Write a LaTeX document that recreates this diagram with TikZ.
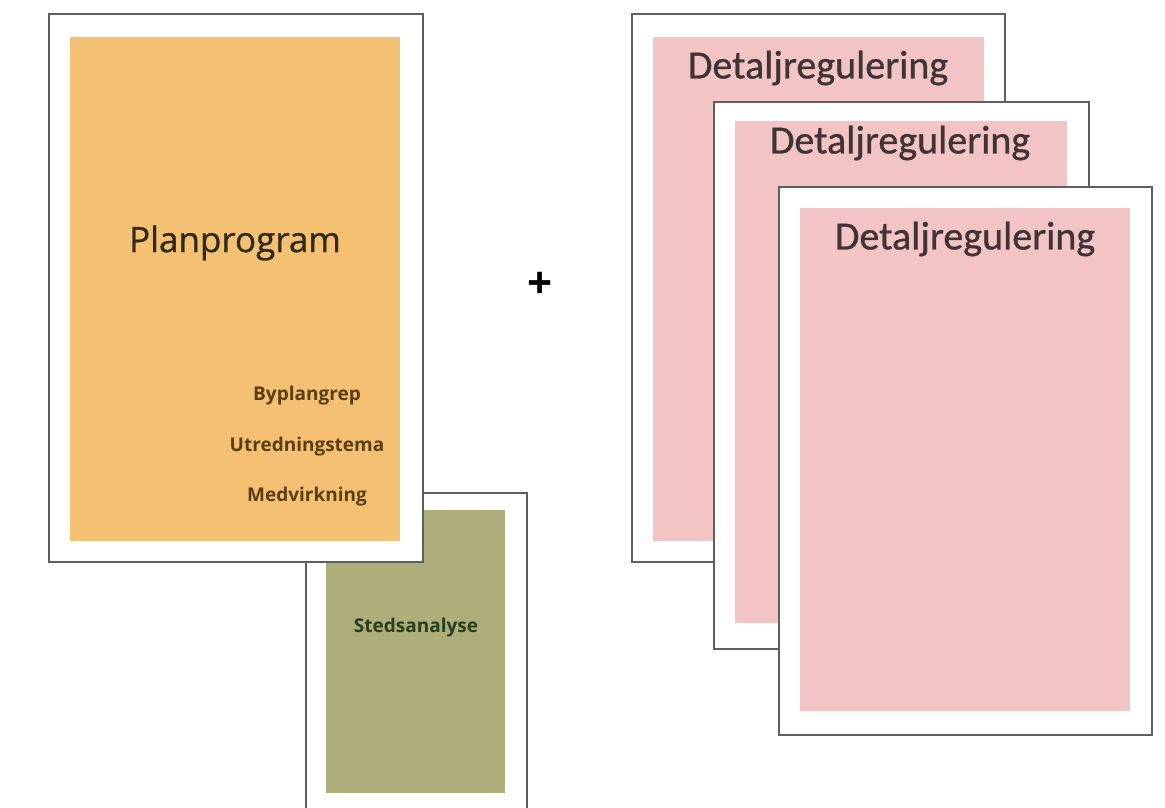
\documentclass[tikz,border=0pt]{standalone}
\usepackage{fontspec}
\setmainfont{Open Sans}
\newfontfamily\calfont[FakeBold=0.8]{Carlito}
\newfontfamily\titlefont[FakeBold=0.8]{Open Sans}
\definecolor{framegray}{HTML}{5F5F5F}
\definecolor{planorange}{HTML}{F4C173}
\definecolor{stedolive}{HTML}{ADAE7A}
\definecolor{detpink}{HTML}{F2C4C4}
\definecolor{plantext}{HTML}{2E2A1E}
\definecolor{subtext}{HTML}{5A3E14}
\definecolor{dettext}{HTML}{3E3436}
\tikzset{
  sheet/.style={draw=framegray, line width=2pt, fill=white, anchor=north west, inner sep=0pt},
  panel/.style={draw=none, anchor=north west, inner sep=0pt},
  dettitle/.style={font=\calfont\fontsize{40}{44}\selectfont, text=dettext, inner sep=0pt},
  subitem/.style={font=\fontsize{19}{21}\selectfont\bfseries, text=subtext, inner sep=0pt}
}
\begin{document}
\begin{tikzpicture}[x=1pt,y=-1pt]
\useasboundingbox (0,0) rectangle (1165,808);
% Stedsanalyse (behind)
\node[sheet, minimum width=221pt, minimum height=318pt] (stedframe) at (305,492) {};
\node[panel, fill=stedolive, minimum width=179pt, minimum height=283pt] (stedpanel) at (326,510) {};
\node[font=\fontsize{19}{21}\selectfont\bfseries, text=plantext!90!green, inner sep=0pt] (stedtext) at (416,628) {Stedsanalyse};
% Planprogram
\node[sheet, minimum width=374pt, minimum height=548pt] (planframe) at (48,13) {};
\node[panel, fill=planorange, minimum width=330pt, minimum height=504pt] (planpanel) at (70,37) {};
\node[font=\titlefont\fontsize{35}{38}\selectfont, text=plantext, inner sep=0pt] (plantitle) at (235,243) {Planprogram};
\node[subitem] (byplan) at (307,396) {Byplangrep};
\node[subitem] (utred) at (307,447) {Utredningstema};
\node[subitem] (medv) at (307,497) {Medvirkning};
% plus
\node[font=\fontsize{44}{46}\selectfont\bfseries, text=black, inner sep=0pt] (plus) at (540,285) {+};
% Detaljregulering sheets
\node[sheet, minimum width=373pt, minimum height=548pt] (d1frame) at (631,13) {};
\node[panel, fill=detpink, minimum width=331pt, minimum height=504pt] (d1panel) at (653,37) {};
\node[dettitle] (d1title) at (818,68) {Detaljregulering};
\node[sheet, minimum width=375pt, minimum height=547pt] (d2frame) at (713,101) {};
\node[panel, fill=detpink, minimum width=332pt, minimum height=502pt] (d2panel) at (735,121) {};
\node[dettitle] (d2title) at (900,143) {Detaljregulering};
\node[sheet, minimum width=373pt, minimum height=548pt] (d3frame) at (778,186) {};
\node[panel, fill=detpink, minimum width=330pt, minimum height=503pt] (d3panel) at (800,208) {};
\node[dettitle] (d3title) at (965,239) {Detaljregulering};
\end{tikzpicture}
\end{document}
